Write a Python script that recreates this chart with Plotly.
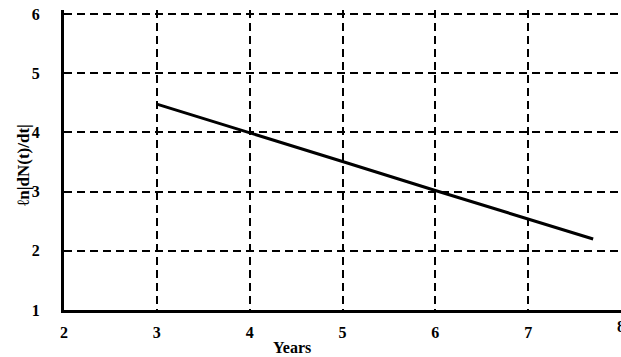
import plotly.graph_objects as go

# line
years = [3, 4, 5, 6, 7, 7.7]
ln_rate = [4.48, 4.0, 3.51, 3.02, 2.54, 2.2]

x_ticks = [2, 3, 4, 5, 6, 7]
y_ticks = [1, 2, 3, 4, 5, 6]

FONT = "'Liberation Serif', 'Times New Roman', Times, serif"

fig = go.Figure()
fig.add_trace(go.Scatter(x=years, y=ln_rate, mode="lines",
                         line=dict(color="black", width=3), showlegend=False))

fig.update_layout(
    width=621, height=357,
    margin=dict(l=64, r=0, t=10, b=47),
    paper_bgcolor="white", plot_bgcolor="white",
    font=dict(family=FONT, color="black"),
)
fig.update_xaxes(
    range=[2, 8], tickvals=x_ticks, ticks="", ticklabelstandoff=6,
    tickfont=dict(family=FONT, size=16, weight="bold"), automargin=False,
    showgrid=True, gridcolor="black", gridwidth=2, griddash="8px,5px",
    showline=True, linecolor="black", linewidth=3, zeroline=False,
)
fig.update_yaxes(
    range=[1, 6.07], tickvals=y_ticks, ticks="", ticklabelstandoff=18,
    tickfont=dict(family=FONT, size=16, weight="bold"), automargin=False,
    showgrid=True, gridcolor="black", gridwidth=2, griddash="8px,5px",
    showline=True, linecolor="black", linewidth=3, zeroline=False,
)
# last tick label sits on the cut edge of the original
fig.add_annotation(x=8, xref="x", y=0, yref="paper", yanchor="top", yshift=-6,
                   text="<b>8</b>", showarrow=False,
                   font=dict(family=FONT, size=16, color="black"))
# axis titles placed like the original (not centred on the plot)
fig.add_annotation(x=4.46, xref="x", xanchor="center", y=0, yref="paper",
                   yanchor="middle", yshift=-37,
                   text="<b>Years</b>", showarrow=False,
                   font=dict(family=FONT, size=16, color="black"))
fig.add_annotation(x=0, xref="paper", xanchor="center", xshift=-41,
                   y=3.45, yref="y", yanchor="middle", textangle=-90,
                   text="<b>ℓn|dN(t)/dt|</b>", showarrow=False,
                   font=dict(family=FONT, size=17, color="black"))

fig.write_html("out.html", post_script="document.body.style.margin='0';",
               config={"displayModeBar": False})
